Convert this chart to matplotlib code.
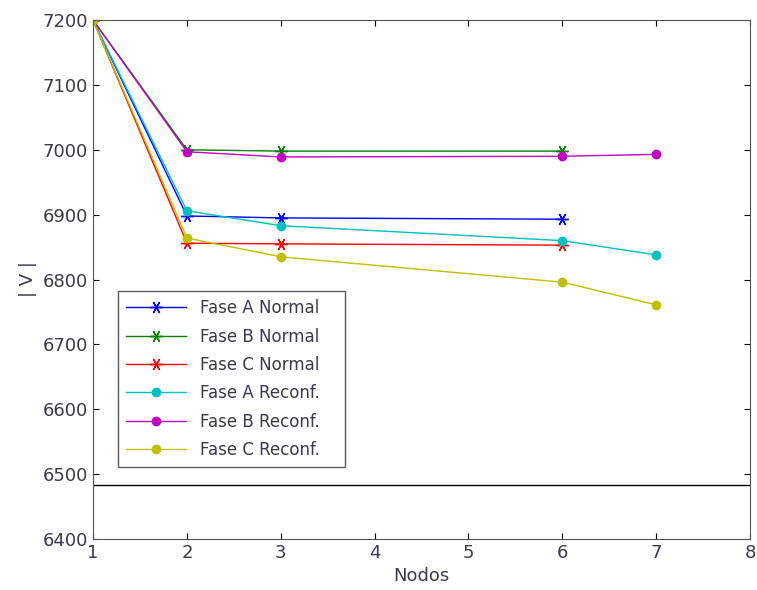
#!/usr/bin/env python3

import matplotlib
matplotlib.use('Agg')
import matplotlib.pyplot as plt
import numpy as np

# nodos y tensiones |V|
nodos_normal = [1, 2, 3, 6]
fase_a_normal = [7200, 6898, 6895, 6893]
fase_b_normal = [7200, 7000, 6998, 6998]
fase_c_normal = [7200, 6856, 6855, 6853]

nodos_reconf = [1, 2, 3, 6, 7]
fase_a_reconf = [7200, 6906, 6883, 6860, 6838]
fase_b_reconf = [7200, 6997, 6989, 6990, 6993]
fase_c_reconf = [7200, 6864, 6835, 6796, 6761]

nivel_min = 6483

labels = ['Fase A Normal', 'Fase B Normal', 'Fase C Normal',
          'Fase A Reconf.', 'Fase B Reconf.', 'Fase C Reconf.']

txt_color = '#3a3a4a'
asterisco = (6, 2, 90)

fig = plt.figure(figsize=(7.57, 5.90), dpi=100)
ax = fig.add_axes([0.1229, 0.0864, 0.8679, 0.8796])

ax.plot(nodos_normal, fase_a_normal, color='b', marker=asterisco, markersize=9, lw=1, mew=1)
ax.plot(nodos_normal, fase_b_normal, color='g', marker=asterisco, markersize=9, lw=1, mew=1)
ax.plot(nodos_normal, fase_c_normal, color='r', marker=asterisco, markersize=9, lw=1, mew=1)
ax.plot(nodos_reconf, fase_a_reconf, color='c', marker='o', markersize=6, lw=1)
ax.plot(nodos_reconf, fase_b_reconf, color='m', marker='o', markersize=6, lw=1)
ax.plot(nodos_reconf, fase_c_reconf, color='y', marker='o', markersize=6, lw=1)

ax.axhline(nivel_min, color='black', lw=1)

ax.set_xlim(1, 8)
ax.set_ylim(6400, 7200)
ax.set_xticks(np.arange(1, 9, 1))
ax.set_yticks(np.arange(6400, 7201, 100))
ax.tick_params(direction='in', top=True, right=True, length=4,
               labelsize=13, labelcolor=txt_color, color='black')
for s in ax.spines.values():
	s.set_color('#555555')

ax.set_xlabel('Nodos', fontsize=13, color=txt_color)
ax.set_ylabel('| V |', fontsize=13, color=txt_color)

leg = ax.legend(labels, loc='upper left', bbox_to_anchor=(0.038, 0.137, 0.346, 0.341),
                mode='expand', borderaxespad=0, fontsize=12, frameon=True,
                fancybox=False, borderpad=0.5, labelspacing=0.62, handlelength=3.6)
leg.get_frame().set_edgecolor('#333333')
leg.get_frame().set_linewidth(1)
for t in leg.get_texts():
	t.set_color(txt_color)

plt.savefig('out.png', dpi=100)
